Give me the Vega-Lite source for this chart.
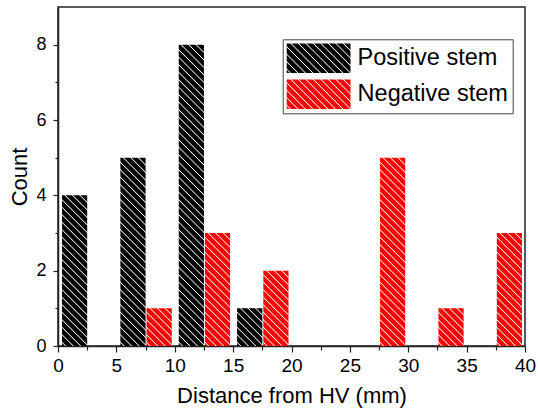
{
  "$schema": "https://vega.github.io/schema/vega-lite/v6.json",
  "width": 467,
  "height": 339,
  "autosize": {"type": "none"},
  "padding": {"left": 58, "top": 7, "right": 13, "bottom": 65},
  "background": "white",
  "data": {
    "values": [
      {"series": "Positive stem", "start": 0, "end": 2.5, "count": 4},
      {"series": "Positive stem", "start": 5, "end": 7.5, "count": 5},
      {"series": "Positive stem", "start": 10, "end": 12.5, "count": 8},
      {"series": "Positive stem", "start": 15, "end": 17.5, "count": 1},
      {"series": "Negative stem", "start": 7.5, "end": 10, "count": 1},
      {"series": "Negative stem", "start": 12.5, "end": 15, "count": 3},
      {"series": "Negative stem", "start": 17.5, "end": 20, "count": 2},
      {"series": "Negative stem", "start": 27.5, "end": 30, "count": 5},
      {"series": "Negative stem", "start": 32.5, "end": 35, "count": 1},
      {"series": "Negative stem", "start": 37.5, "end": 40, "count": 3}
    ]
  },
  "encoding": {
    "x": {
      "field": "start",
      "type": "quantitative",
      "scale": {"domain": [0, 40], "nice": false},
      "axis": {
        "title": "Distance from HV (mm)",
        "values": [0, 2.5, 5, 7.5, 10, 12.5, 15, 17.5, 20, 22.5, 25, 27.5, 30, 32.5, 35, 37.5, 40],
        "labelExpr": "datum.value % 5 === 0 ? format(datum.value, 'd') : ''",
        "tickSize": {"condition": {"test": "datum.value % 5 === 0", "value": 6}, "value": 4},
        "labelFontSize": 19,
        "labelPadding": 4,
        "labelFlush": false,
        "labelOverlap": false,
        "labelBound": false,
        "titleFontSize": 22,
        "titlePadding": 10
      }
    },
    "x2": {"field": "end"},
    "y": {
      "field": "count",
      "type": "quantitative",
      "scale": {"domain": [0, 9], "nice": false},
      "axis": {
        "title": "Count",
        "values": [0, 1, 2, 3, 4, 5, 6, 7, 8],
        "labelExpr": "datum.value % 2 === 0 ? format(datum.value, 'd') : ''",
        "tickSize": {"condition": {"test": "datum.value % 2 === 0", "value": 5}, "value": 3},
        "labelFontSize": 18,
        "labelPadding": 7,
        "labelOverlap": false,
        "titleFontSize": 22,
        "titlePadding": 4
      }
    },
    "y2": {"datum": 0},
    "fill": {
      "value": {
        "expr": "datum.count ? (datum.series === 'Positive stem' ? {gradient:'linear',x1:0,y1:1,x2:9446/(634.5+pow(37.667*datum.count,2)),y2:1-14125*datum.count/(634.5+pow(37.667*datum.count,2)),stops:[{offset:0.007,color:'#000'},{offset:0.01,color:'#fff'},{offset:0.013,color:'#000'},{offset:0.027,color:'#000'},{offset:0.03,color:'#fff'},{offset:0.033,color:'#000'},{offset:0.047,color:'#000'},{offset:0.05,color:'#fff'},{offset:0.053,color:'#000'},{offset:0.067,color:'#000'},{offset:0.07,color:'#fff'},{offset:0.073,color:'#000'},{offset:0.087,color:'#000'},{offset:0.09,color:'#fff'},{offset:0.093,color:'#000'},{offset:0.107,color:'#000'},{offset:0.11,color:'#fff'},{offset:0.113,color:'#000'},{offset:0.127,color:'#000'},{offset:0.13,color:'#fff'},{offset:0.133,color:'#000'},{offset:0.147,color:'#000'},{offset:0.15,color:'#fff'},{offset:0.153,color:'#000'},{offset:0.167,color:'#000'},{offset:0.17,color:'#fff'},{offset:0.173,color:'#000'},{offset:0.187,color:'#000'},{offset:0.19,color:'#fff'},{offset:0.193,color:'#000'},{offset:0.207,color:'#000'},{offset:0.21,color:'#fff'},{offset:0.213,color:'#000'},{offset:0.227,color:'#000'},{offset:0.23,color:'#fff'},{offset:0.233,color:'#000'},{offset:0.247,color:'#000'},{offset:0.25,color:'#fff'},{offset:0.253,color:'#000'},{offset:0.267,color:'#000'},{offset:0.27,color:'#fff'},{offset:0.273,color:'#000'},{offset:0.287,color:'#000'},{offset:0.29,color:'#fff'},{offset:0.293,color:'#000'},{offset:0.307,color:'#000'},{offset:0.31,color:'#fff'},{offset:0.313,color:'#000'},{offset:0.327,color:'#000'},{offset:0.33,color:'#fff'},{offset:0.333,color:'#000'},{offset:0.347,color:'#000'},{offset:0.35,color:'#fff'},{offset:0.353,color:'#000'},{offset:0.367,color:'#000'},{offset:0.37,color:'#fff'},{offset:0.373,color:'#000'},{offset:0.387,color:'#000'},{offset:0.39,color:'#fff'},{offset:0.393,color:'#000'},{offset:0.407,color:'#000'},{offset:0.41,color:'#fff'},{offset:0.413,color:'#000'},{offset:0.427,color:'#000'},{offset:0.43,color:'#fff'},{offset:0.433,color:'#000'},{offset:0.447,color:'#000'},{offset:0.45,color:'#fff'},{offset:0.453,color:'#000'},{offset:0.467,color:'#000'},{offset:0.47,color:'#fff'},{offset:0.473,color:'#000'},{offset:0.487,color:'#000'},{offset:0.49,color:'#fff'},{offset:0.493,color:'#000'},{offset:0.507,color:'#000'},{offset:0.51,color:'#fff'},{offset:0.513,color:'#000'},{offset:0.527,color:'#000'},{offset:0.53,color:'#fff'},{offset:0.533,color:'#000'},{offset:0.547,color:'#000'},{offset:0.55,color:'#fff'},{offset:0.553,color:'#000'},{offset:0.567,color:'#000'},{offset:0.57,color:'#fff'},{offset:0.573,color:'#000'},{offset:0.587,color:'#000'},{offset:0.59,color:'#fff'},{offset:0.593,color:'#000'},{offset:0.607,color:'#000'},{offset:0.61,color:'#fff'},{offset:0.613,color:'#000'},{offset:0.627,color:'#000'},{offset:0.63,color:'#fff'},{offset:0.633,color:'#000'},{offset:0.647,color:'#000'},{offset:0.65,color:'#fff'},{offset:0.653,color:'#000'},{offset:0.667,color:'#000'},{offset:0.67,color:'#fff'},{offset:0.673,color:'#000'},{offset:0.687,color:'#000'},{offset:0.69,color:'#fff'},{offset:0.693,color:'#000'},{offset:0.707,color:'#000'},{offset:0.71,color:'#fff'},{offset:0.713,color:'#000'},{offset:0.727,color:'#000'},{offset:0.73,color:'#fff'},{offset:0.733,color:'#000'},{offset:0.747,color:'#000'},{offset:0.75,color:'#fff'},{offset:0.753,color:'#000'},{offset:0.767,color:'#000'},{offset:0.77,color:'#fff'},{offset:0.773,color:'#000'},{offset:0.787,color:'#000'},{offset:0.79,color:'#fff'},{offset:0.793,color:'#000'},{offset:0.807,color:'#000'},{offset:0.81,color:'#fff'},{offset:0.813,color:'#000'},{offset:0.827,color:'#000'},{offset:0.83,color:'#fff'},{offset:0.833,color:'#000'},{offset:0.847,color:'#000'},{offset:0.85,color:'#fff'},{offset:0.853,color:'#000'},{offset:0.867,color:'#000'},{offset:0.87,color:'#fff'},{offset:0.873,color:'#000'}]} : {gradient:'linear',x1:0,y1:1,x2:9446/(634.5+pow(37.667*datum.count,2)),y2:1-14125*datum.count/(634.5+pow(37.667*datum.count,2)),stops:[{offset:0.007,color:'#f00'},{offset:0.01,color:'#fff'},{offset:0.013,color:'#f00'},{offset:0.027,color:'#f00'},{offset:0.03,color:'#fff'},{offset:0.033,color:'#f00'},{offset:0.047,color:'#f00'},{offset:0.05,color:'#fff'},{offset:0.053,color:'#f00'},{offset:0.067,color:'#f00'},{offset:0.07,color:'#fff'},{offset:0.073,color:'#f00'},{offset:0.087,color:'#f00'},{offset:0.09,color:'#fff'},{offset:0.093,color:'#f00'},{offset:0.107,color:'#f00'},{offset:0.11,color:'#fff'},{offset:0.113,color:'#f00'},{offset:0.127,color:'#f00'},{offset:0.13,color:'#fff'},{offset:0.133,color:'#f00'},{offset:0.147,color:'#f00'},{offset:0.15,color:'#fff'},{offset:0.153,color:'#f00'},{offset:0.167,color:'#f00'},{offset:0.17,color:'#fff'},{offset:0.173,color:'#f00'},{offset:0.187,color:'#f00'},{offset:0.19,color:'#fff'},{offset:0.193,color:'#f00'},{offset:0.207,color:'#f00'},{offset:0.21,color:'#fff'},{offset:0.213,color:'#f00'},{offset:0.227,color:'#f00'},{offset:0.23,color:'#fff'},{offset:0.233,color:'#f00'},{offset:0.247,color:'#f00'},{offset:0.25,color:'#fff'},{offset:0.253,color:'#f00'},{offset:0.267,color:'#f00'},{offset:0.27,color:'#fff'},{offset:0.273,color:'#f00'},{offset:0.287,color:'#f00'},{offset:0.29,color:'#fff'},{offset:0.293,color:'#f00'},{offset:0.307,color:'#f00'},{offset:0.31,color:'#fff'},{offset:0.313,color:'#f00'},{offset:0.327,color:'#f00'},{offset:0.33,color:'#fff'},{offset:0.333,color:'#f00'},{offset:0.347,color:'#f00'},{offset:0.35,color:'#fff'},{offset:0.353,color:'#f00'},{offset:0.367,color:'#f00'},{offset:0.37,color:'#fff'},{offset:0.373,color:'#f00'},{offset:0.387,color:'#f00'},{offset:0.39,color:'#fff'},{offset:0.393,color:'#f00'},{offset:0.407,color:'#f00'},{offset:0.41,color:'#fff'},{offset:0.413,color:'#f00'},{offset:0.427,color:'#f00'},{offset:0.43,color:'#fff'},{offset:0.433,color:'#f00'},{offset:0.447,color:'#f00'},{offset:0.45,color:'#fff'},{offset:0.453,color:'#f00'},{offset:0.467,color:'#f00'},{offset:0.47,color:'#fff'},{offset:0.473,color:'#f00'},{offset:0.487,color:'#f00'},{offset:0.49,color:'#fff'},{offset:0.493,color:'#f00'},{offset:0.507,color:'#f00'},{offset:0.51,color:'#fff'},{offset:0.513,color:'#f00'},{offset:0.527,color:'#f00'},{offset:0.53,color:'#fff'},{offset:0.533,color:'#f00'},{offset:0.547,color:'#f00'},{offset:0.55,color:'#fff'},{offset:0.553,color:'#f00'},{offset:0.567,color:'#f00'},{offset:0.57,color:'#fff'},{offset:0.573,color:'#f00'}]}) : (datum.value === 'Positive stem' ? {gradient:'linear',x1:0,y1:1,x2:4.849,y2:-1.2342,stops:[{offset:0.007,color:'#000'},{offset:0.01,color:'#fff'},{offset:0.013,color:'#000'},{offset:0.027,color:'#000'},{offset:0.03,color:'#fff'},{offset:0.033,color:'#000'},{offset:0.047,color:'#000'},{offset:0.05,color:'#fff'},{offset:0.053,color:'#000'},{offset:0.067,color:'#000'},{offset:0.07,color:'#fff'},{offset:0.073,color:'#000'},{offset:0.087,color:'#000'},{offset:0.09,color:'#fff'},{offset:0.093,color:'#000'},{offset:0.107,color:'#000'},{offset:0.11,color:'#fff'},{offset:0.113,color:'#000'},{offset:0.127,color:'#000'},{offset:0.13,color:'#fff'},{offset:0.133,color:'#000'},{offset:0.147,color:'#000'},{offset:0.15,color:'#fff'},{offset:0.153,color:'#000'},{offset:0.167,color:'#000'},{offset:0.17,color:'#fff'},{offset:0.173,color:'#000'},{offset:0.187,color:'#000'},{offset:0.19,color:'#fff'},{offset:0.193,color:'#000'},{offset:0.207,color:'#000'},{offset:0.21,color:'#fff'},{offset:0.213,color:'#000'},{offset:0.227,color:'#000'},{offset:0.23,color:'#fff'},{offset:0.233,color:'#000'},{offset:0.247,color:'#000'},{offset:0.25,color:'#fff'},{offset:0.253,color:'#000'}]} : {gradient:'linear',x1:0,y1:1,x2:4.849,y2:-1.2342,stops:[{offset:0.007,color:'#f00'},{offset:0.01,color:'#fff'},{offset:0.013,color:'#f00'},{offset:0.027,color:'#f00'},{offset:0.03,color:'#fff'},{offset:0.033,color:'#f00'},{offset:0.047,color:'#f00'},{offset:0.05,color:'#fff'},{offset:0.053,color:'#f00'},{offset:0.067,color:'#f00'},{offset:0.07,color:'#fff'},{offset:0.073,color:'#f00'},{offset:0.087,color:'#f00'},{offset:0.09,color:'#fff'},{offset:0.093,color:'#f00'},{offset:0.107,color:'#f00'},{offset:0.11,color:'#fff'},{offset:0.113,color:'#f00'},{offset:0.127,color:'#f00'},{offset:0.13,color:'#fff'},{offset:0.133,color:'#f00'},{offset:0.147,color:'#f00'},{offset:0.15,color:'#fff'},{offset:0.153,color:'#f00'},{offset:0.167,color:'#f00'},{offset:0.17,color:'#fff'},{offset:0.173,color:'#f00'},{offset:0.187,color:'#f00'},{offset:0.19,color:'#fff'},{offset:0.193,color:'#f00'},{offset:0.207,color:'#f00'},{offset:0.21,color:'#fff'},{offset:0.213,color:'#f00'},{offset:0.227,color:'#f00'},{offset:0.23,color:'#fff'},{offset:0.233,color:'#f00'},{offset:0.247,color:'#f00'},{offset:0.25,color:'#fff'},{offset:0.253,color:'#f00'}]})"
      }
    },
    "opacity": {
      "field": "series",
      "type": "nominal",
      "scale": {"domain": ["Positive stem", "Negative stem"], "range": [1, 1]},
      "legend": {
        "title": null,
        "orient": "none",
        "legendX": 224.7,
        "legendY": 32.3,
        "direction": "vertical",
        "symbolType": "M-2.17,-1H2.17V1H-2.17Z",
        "symbolSize": 864,
        "symbolStrokeWidth": 0,
        "symbolOffset": 16.9,
        "labelOffset": 24,
        "labelFont": "Liberation Sans",
        "labelFontSize": 23.5,
        "labelColor": "#000",
        "labelLimit": 300,
        "rowPadding": 6,
        "padding": 4,
        "strokeColor": "#444"
      }
    }
  },
  "layer": [
    {
      "transform": [{"filter": "datum.series === 'Positive stem'"}],
      "mark": {"type": "bar", "xOffset": 4, "x2Offset": 0}
    },
    {
      "transform": [{"filter": "datum.series === 'Negative stem'"}],
      "mark": {"type": "bar", "xOffset": 1, "x2Offset": -3}
    }
  ],
  "config": {
    "font": "Liberation Sans",
    "view": {"stroke": "#222", "strokeWidth": 1.5},
    "axis": {
      "grid": false,
      "domainColor": "#222",
      "domainWidth": 1.5,
      "tickColor": "#222",
      "tickWidth": 1.2,
      "labelColor": "#000",
      "titleColor": "#000",
      "labelFont": "Liberation Sans",
      "titleFont": "Liberation Sans",
      "titleFontWeight": "normal"
    }
  }
}
